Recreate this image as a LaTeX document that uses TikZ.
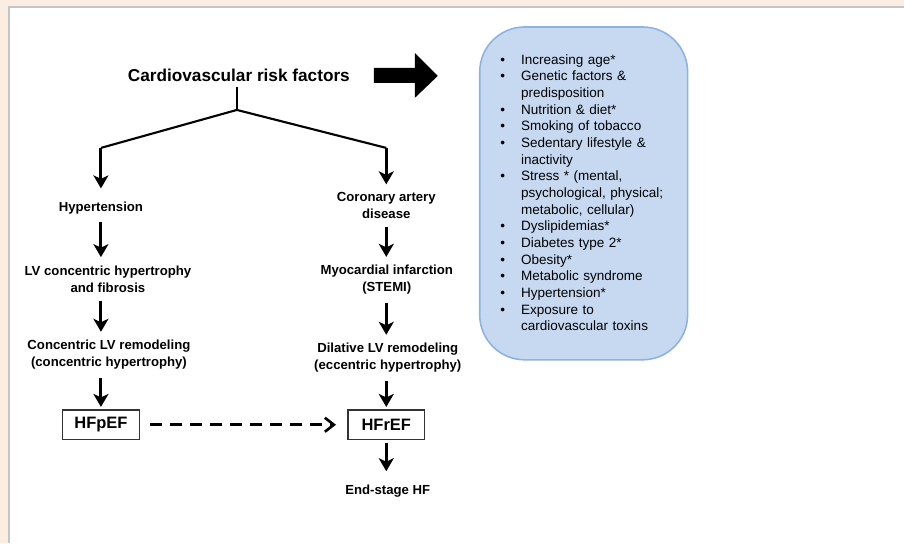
\documentclass[tikz,border=0pt]{standalone}
\usepackage{fontspec}
\setmainfont{Liberation Sans}
\usepackage{xcolor}
\usetikzlibrary{arrows.meta,positioning,calc}

\definecolor{peach}{RGB}{252,237,226}
\definecolor{edgegray}{RGB}{196,196,196}
\definecolor{listfill}{RGB}{198,217,241}
\definecolor{listline}{RGB}{141,179,226}

\newenvironment{risklist}{%
  \begin{list}{\textbullet}{%
    \setlength{\leftmargin}{0.42cm}\setlength{\labelsep}{0.32cm}%
    \setlength{\labelwidth}{0.1cm}\setlength{\itemsep}{0pt}%
    \setlength{\parsep}{0pt}\setlength{\topsep}{0pt}\setlength{\partopsep}{0pt}}}%
  {\end{list}}

\begin{document}
\begin{tikzpicture}[
  x=0.02cm, y=-0.02cm,
  stage/.style={font=\fontsize{7.5}{9.7}\selectfont\bfseries,align=center,inner xsep=0pt,inner ysep=0.16cm},
  hfbox/.style={draw=black!80,line width=0.85pt,minimum width=1.54cm,minimum height=0.6cm,inner sep=0pt,outer sep=1.6pt,font=\fontsize{9.4}{11}\selectfont\bfseries},
  arrow/.style={-{Stealth[length=2.6mm,width=3mm,inset=0.7mm]},line width=1.75pt},
  branch/.style={line width=1.2pt},
  dasharrow/.style={-{Straight Barb[length=1.8mm,width=2.8mm,line width=1.5pt]},line width=1.7pt,dash pattern=on 0.24cm off 0.16cm}
]
% page background
\fill[peach] (0,0) rectangle (905,543);
\fill[white] (9,7) rectangle (905,543);
\draw[edgegray,line width=0.6pt] (9,543) -- (9,7) -- (905,7);
\useasboundingbox (0,0) rectangle (905,543);

% title and block arrow
\node[font=\fontsize{9.8}{12}\selectfont\bfseries,inner sep=0.1cm] (title) at (239,75) {Cardiovascular risk factors};
\fill (374,68) -- (415,68) -- (415,53) -- (438,76) -- (415,98) -- (415,83) -- (374,83) -- cycle;

% risk factor list
\draw[listline,fill=listfill,line width=0.9pt,rounded corners=0.9cm] (480,27) rectangle (688,360);
\node[anchor=north west,inner sep=0pt,text width=3.7cm,font=\fontsize{7.7}{9.5}\selectfont] (risks) at (500,47) {%
\begin{risklist}
\item Increasing age*
\item Genetic factors \&\newline predisposition
\item Nutrition \& diet*
\item Smoking of tobacco
\item Sedentary lifestyle \&\newline inactivity
\item Stress * (mental,\newline psychological, physical;\newline metabolic, cellular)
\item Dyslipidemias*
\item Diabetes type 2*
\item Obesity*
\item Metabolic syndrome
\item Hypertension*
\item Exposure to\newline cardiovascular toxins
\end{risklist}};

% left pathway
\node[stage] (hyp) at (101,208) {Hypertension};
\node[stage] (lvh) at (108,279) {LV concentric hypertrophy\\and fibrosis};
\node[stage] (clv) at (109,355) {Concentric LV remodeling\\(concentric hypertrophy)};
\node[hfbox] (hfp) at (101,425) {HFpEF};

% right pathway
\node[stage] (cad) at (386.5,206) {Coronary artery\\disease};
\node[stage] (mi) at (387,280) {Myocardial infarction\\(STEMI)};
\node[stage] (dlv) at (388,358) {Dilative LV remodeling\\(eccentric hypertrophy)};
\node[hfbox] (hfr) at (386.5,425) {HFrEF};
\node[stage,inner ysep=0.26cm] (esh) at (388,491) {End-stage HF};

% branching
\coordinate (fork) at (237,110);
\coordinate (lb) at (101,148);
\coordinate (rb) at (386.5,148);
\draw[branch] (title.south -| fork) -- (fork);
\draw[branch] (lb) -- (fork) -- (rb);
\draw[arrow,shorten >=0.1cm] (lb) -- (lb |- hyp.north);
\draw[arrow] (rb) -- (rb |- cad.north);

\draw[arrow] (hyp.south) -- (hyp.south |- lvh.north);
\draw[arrow] (hyp.south |- lvh.south) -- (hyp.south |- clv.north);
\draw[arrow] (hyp.south |- clv.south) -- (hfp.north);

\draw[arrow] (rb |- cad.south) -- (rb |- mi.north);
\draw[arrow] (rb |- mi.south) -- (rb |- dlv.north);
\draw[arrow] (rb |- dlv.south) -- (hfr.north);
\draw[arrow] (hfr.south) -- (hfr.south |- esh.north);

\draw[dasharrow,shorten <=0.16cm,shorten >=0.18cm] (hfp.east) -- (hfr.west);
\end{tikzpicture}
\end{document}
